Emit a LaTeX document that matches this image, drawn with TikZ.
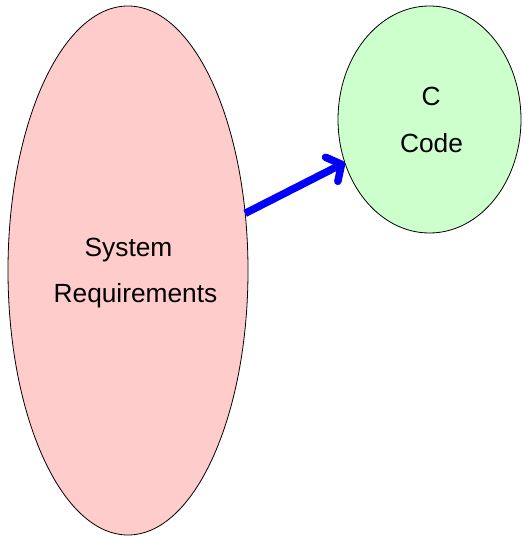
\documentclass[tikz,border=0pt]{standalone}
\usepackage{fontspec}
\setmainfont{Liberation Sans}
\usetikzlibrary{shapes.geometric,arrows.meta}
\begin{document}
\begin{tikzpicture}[x=1pt,y=-1pt,
  blob/.style={ellipse,draw=black,line width=0.8pt,inner sep=0pt,outer sep=0pt},
  lbl/.style={font=\fontsize{26.3}{30}\selectfont,inner sep=0pt,anchor=base},
  link/.style={draw=blue,line width=7.5pt,line join=round,
    -{Straight Barb[length=11pt,width=27pt,line cap=round,line join=round]}}]
\useasboundingbox (0,0) rectangle (522,537);
\node[blob,fill={rgb,255:red,255;green,204;blue,204},minimum width=240pt,minimum height=529pt] (sr) at (128,270.5) {};
\node[blob,fill={rgb,255:red,204;green,255;blue,204},minimum width=183pt,minimum height=227pt] (cc) at (429.5,119.5) {};
\node[lbl] (t1) at (128.5,256) {System};
\node[lbl] (t2) at (135.5,302) {Requirements};
\node[lbl] (t3) at (431,106) {C};
\node[lbl] (t4) at (431.5,153) {Code};
\draw[link] (sr.26) -- (cc.207);
\end{tikzpicture}
\end{document}
